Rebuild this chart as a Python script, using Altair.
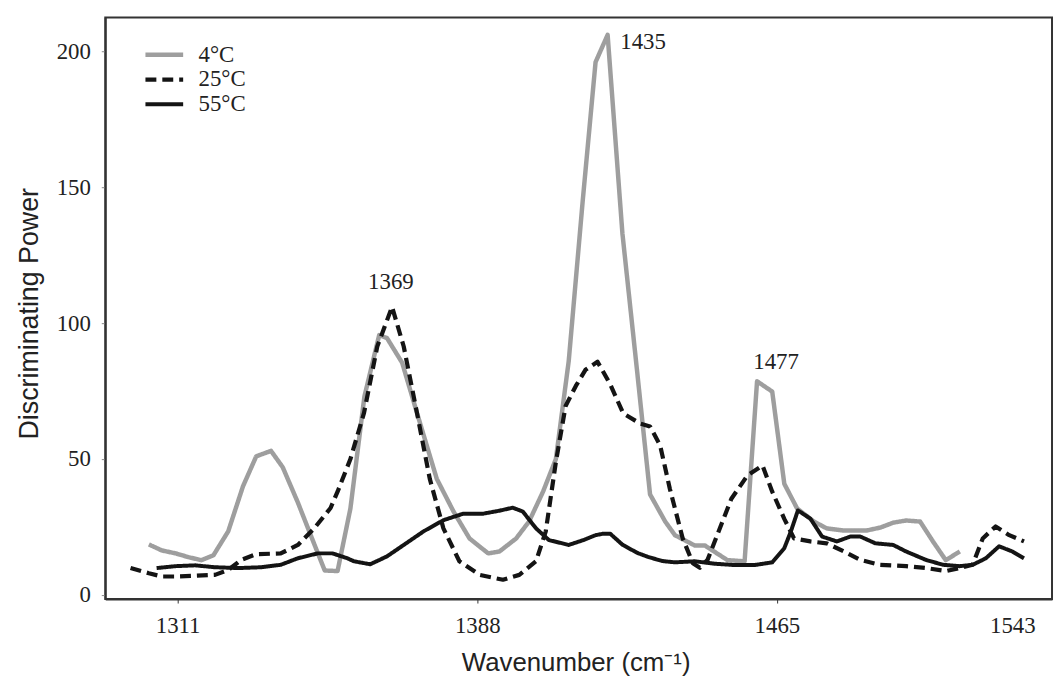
import altair as alt
import pandas as pd

series_names = ["4°C", "25°C", "55°C"]
series_colors = ["#9e9e9e", "#141414", "#141414"]

# 4°C (grey solid)
x_4c = [1303.6, 1306.9, 1310.5, 1313.8, 1317.1, 1320.2, 1324.0, 1327.8, 1331.2, 1335.0,
        1338.0, 1341.9, 1345.2, 1348.8, 1352.1, 1355.4, 1359.0, 1362.8, 1364.8, 1368.7,
        1373.0, 1377.6, 1381.9, 1386.0, 1390.8, 1393.7, 1398.0, 1401.3, 1404.9, 1408.2,
        1411.5, 1415.1, 1418.4, 1421.5, 1425.3, 1429.1, 1432.4, 1436.3, 1438.8, 1443.9,
        1446.5, 1452.3, 1456.7, 1459.9, 1463.8, 1466.9, 1470.2, 1474.5, 1477.8, 1482.2,
        1488.0, 1491.6, 1494.9, 1498.2, 1501.8, 1505.1, 1508.4, 1512.0]
y_4c = [18.6, 16.4, 15.3, 13.9, 12.8, 14.6, 23.4, 40.0, 51.0, 53.0,
        47.0, 34.0, 22.0, 9.0, 8.8, 31.8, 73.0, 95.6, 94.5, 85.4,
        64.6, 42.7, 30.7, 20.8, 15.3, 16.0, 20.8, 27.0, 38.0, 50.0,
        86.0, 145.0, 196.0, 206.0, 133.0, 82.0, 37.0, 27.0, 22.0, 18.2,
        18.2, 12.8, 12.4, 78.6, 74.8, 40.9, 31.8, 27.0, 24.5, 23.7,
        23.7, 24.8, 26.6, 27.4, 27.0, 19.7, 12.8, 16.0]

# 25°C (black dashed)
x_25c = [1298.9, 1303.6, 1306.9, 1310.4, 1314.6, 1320.6, 1324.0, 1327.3, 1331.2, 1337.5,
         1341.9, 1346.1, 1350.3, 1352.1, 1355.4, 1358.9, 1362.3, 1366.1, 1369.1, 1372.5,
         1375.8, 1379.3, 1383.4, 1388.6, 1394.6, 1398.8, 1403.1, 1405.6, 1408.2, 1410.7,
         1413.3, 1415.8, 1418.9, 1422.2, 1425.5, 1429.9, 1432.4, 1435.0, 1437.5, 1440.8,
         1443.4, 1445.2, 1447.2, 1453.3, 1457.4, 1461.3, 1463.8, 1466.9, 1469.4, 1473.6,
         1477.8, 1482.2, 1486.4, 1491.5, 1498.2, 1503.3, 1508.4, 1511.9, 1515.3, 1517.9,
         1521.2, 1524.7, 1528.5]
y_25c = [9.9, 8.0, 6.8, 6.8, 7.0, 7.4, 9.2, 12.9, 15.0, 15.3,
         18.4, 24.5, 32.0, 38.0, 50.0, 67.0, 91.4, 106.0, 91.4, 67.0,
         42.7, 24.5, 12.4, 7.4, 5.6, 7.4, 12.4, 23.4, 48.9, 69.5,
         76.8, 82.8, 85.8, 77.4, 66.8, 63.0, 62.0, 55.0, 39.0, 20.8,
         11.7, 10.0, 13.0, 35.4, 43.9, 47.6, 38.0, 28.0, 20.8, 19.7,
         19.0, 16.0, 12.9, 11.1, 10.6, 9.9, 8.8, 9.9, 11.1, 20.8,
         25.2, 22.0, 19.7]

# 55°C (black solid)
x_55c = [1305.6, 1310.4, 1315.5, 1320.6, 1326.6, 1332.4, 1337.5, 1341.9, 1347.0, 1350.8,
         1354.6, 1356.3, 1360.5, 1364.8, 1369.1, 1374.2, 1379.3, 1384.4, 1389.5, 1393.7,
         1397.1, 1399.7, 1403.1, 1406.4, 1411.5, 1415.3, 1418.4, 1420.2, 1422.2, 1425.3,
         1429.1, 1431.9, 1435.5, 1438.8, 1443.9, 1449.0, 1454.1, 1459.2, 1463.8, 1466.9,
         1468.6, 1470.4, 1473.6, 1476.6, 1480.4, 1483.9, 1486.4, 1490.3, 1494.9, 1498.2,
         1503.3, 1507.7, 1511.9, 1515.3, 1518.7, 1522.1, 1525.5, 1528.5]
y_55c = [9.9, 10.6, 10.9, 10.2, 9.9, 10.2, 11.1, 13.5, 15.3, 15.3,
         13.5, 12.4, 11.3, 14.2, 18.4, 23.4, 27.5, 29.9, 29.9, 31.0,
         32.1, 30.7, 24.5, 20.2, 18.4, 20.2, 22.0, 22.5, 22.5, 18.5,
         15.5, 14.0, 12.5, 12.0, 12.4, 11.5, 11.0, 11.0, 12.0, 17.2,
         23.4, 31.1, 28.1, 21.5, 19.7, 21.5, 21.5, 19.0, 18.4, 16.0,
         12.9, 11.1, 10.6, 11.1, 13.5, 17.9, 16.0, 13.5]

x_tick_values = [1311, 1388, 1465, 1525.5]
x_tick_labels = ["1311", "1388", "1465", "1543"]
y_tick_values = [0, 50, 100, 150, 200]

peak_labels = ["1369", "1435", "1477"]
peak_x = [1365.8, 1430.6, 1464.8]
peak_y = [115.0, 203.3, 85.8]

rows = []
for name, xs, ys in zip(series_names, [x_4c, x_25c, x_55c], [y_4c, y_25c, y_55c]):
    for i, (xv, yv) in enumerate(zip(xs, ys)):
        rows.append({"series": name, "wn": xv, "dp": yv, "idx": i})
df = pd.DataFrame(rows)
peaks = pd.DataFrame({"label": peak_labels, "wn": peak_x, "dp": peak_y})

label_expr = "datum.label"
for v, l in zip(reversed(x_tick_values), reversed(x_tick_labels)):
    label_expr = f"datum.value == {v} ? '{l}' : ({label_expr})"

xscale = alt.Scale(domain=[1292.4, 1535.7], nice=False, zero=False)
yscale = alt.Scale(domain=[-1.5, 212.4], nice=False, zero=False)

legend_kw = dict(
    orient="none", legendX=38, legendY=26, title=None,
    labelFont="Liberation Serif", labelFontSize=23, labelColor="#222",
    symbolType="stroke", symbolSize=1444, symbolStrokeWidth=5,
    clipHeight=23, rowPadding=1, labelOffset=13, padding=0,
)

lines = alt.Chart(df).mark_line(strokeJoin="round").encode(
    x=alt.X("wn:Q", scale=xscale, axis=alt.Axis(
        values=x_tick_values, labelExpr=label_expr, labelFlush=False,
        title="Wavenumber (cm⁻¹)",
        tickColor={"condition": {"test": "datum.value == 1525.5", "value": "transparent"}, "value": "#333"},
        tickSize=4, labelPadding=12,
        titleX=474, titleY=64, titleBaseline="middle", titleAlign="center",
    )),
    y=alt.Y("dp:Q", scale=yscale, axis=alt.Axis(
        values=y_tick_values, title="Discriminating Power",
        tickSize=4, labelPadding=11,
        titleX=-76, titleY=298, titleAngle=-90, titleBaseline="middle", titleAlign="center",
        titleFontSize=27,
    )),
    color=alt.Color("series:N", scale=alt.Scale(domain=series_names, range=series_colors),
                    legend=alt.Legend(**legend_kw)),
    strokeDash=alt.StrokeDash("series:N", scale=alt.Scale(domain=series_names, range=[[1, 0], [11, 6], [1, 0]]),
                              legend=alt.Legend(**legend_kw)),
    strokeWidth=alt.StrokeWidth("series:N", scale=alt.Scale(domain=series_names, range=[4.5, 4, 3.5]),
                                legend=None),
    order=alt.Order("idx:Q"),
)

texts = alt.Chart(peaks).mark_text(
    font="Liberation Serif", fontSize=23, color="#222", align="center", baseline="middle"
).encode(
    x=alt.X("wn:Q", scale=xscale),
    y=alt.Y("dp:Q", scale=yscale),
    text="label:N",
)

chart = alt.layer(lines, texts).properties(
    width=954, height=586,
    autosize=alt.AutoSizeParams(type="none"),
    padding={"left": 98, "top": 7, "right": 2, "bottom": 81},
).configure_view(
    stroke="#333", strokeWidth=2
).configure_axis(
    grid=False, domainColor="#333", domainWidth=2,
    labelFont="Liberation Serif", labelFontSize=23, labelColor="#222",
    titleFont="Liberation Sans", titleFontSize=26, titleFontWeight="normal", titleColor="#222",
)

chart.save("out.html", embed_options={"renderer": "svg", "actions": False})
